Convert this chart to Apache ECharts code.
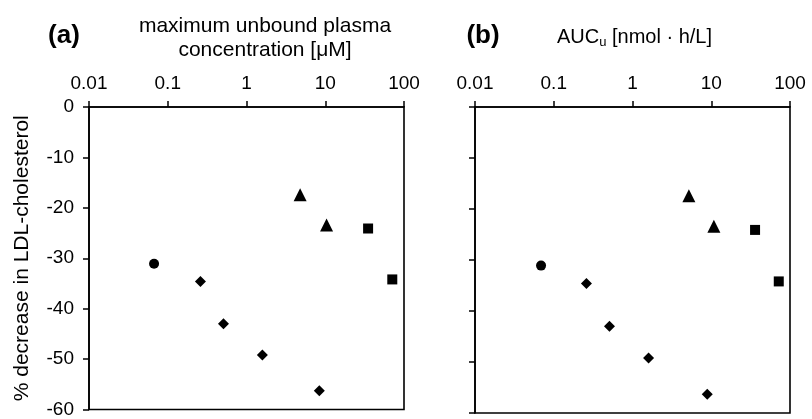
<!DOCTYPE html>
<html>
<head>
<meta charset="utf-8">
<script src="https://cdn.jsdelivr.net/npm/echarts@6/dist/echarts.min.js"></script>
<style>
  html, body { margin: 0; padding: 0; background: #fff; }
  #chart { width: 812px; height: 419px; }
</style>
</head>
<body>
<div id="chart"></div>
<script>
// tick labels for both log axes
const xTicks = [0.01, 0.1, 1, 10, 100]
const yTicks = [0, -10, -20, -30, -40, -50, -60]

// % decrease in LDL-cholesterol, per marker group
const ldlCircle = [-31.1]
const ldlTriangle = [-17.4, -23.4]
const ldlSquare = [-24.1, -34.2]
const ldlDiamond = [-34.6, -43.0, -49.2, -56.3]

// (a) maximum unbound plasma concentration [uM]
const concCircle = [0.067]
const concTriangle = [4.8, 10.4]
const concSquare = [35, 71]
const concDiamond = [0.26, 0.51, 1.59, 8.4]

// (b) AUCu [nmol h/L]
const aucCircle = [0.069]
const aucTriangle = [5.2, 10.8]
const aucSquare = [36, 72]
const aucDiamond = [0.26, 0.51, 1.6, 8.9]

const FONT = "Liberation Sans, Arial, sans-serif"

function pairs(xs, ys) {
  return xs.map((x, i) => [x, ys[i]])
}

function xAxisCfg(idx) {
  return {
    type: "log",
    logBase: 10,
    gridIndex: idx,
    position: "top",
    min: xTicks[0],
    max: xTicks[xTicks.length - 1],
    axisLine: { show: true, lineStyle: { color: "#000", width: 1.6 } },
    axisTick: { show: true, length: 6, lineStyle: { color: "#000", width: 1.5 } },
    minorTick: { show: false },
    splitLine: { show: false },
    axisLabel: {
      color: "#000",
      fontSize: 19,
      fontFamily: FONT,
      margin: 14,
      formatter: (v) => String(+(+v).toPrecision(3))
    }
  }
}

function yAxisCfg(idx, showLabels) {
  return {
    type: "value",
    gridIndex: idx,
    min: yTicks[yTicks.length - 1],
    max: yTicks[0],
    interval: 10,
    name: showLabels ? "% decrease in LDL-cholesterol" : "",
    nameLocation: "middle",
    nameGap: 56,
    nameTextStyle: { color: "#000", fontSize: 21, fontFamily: FONT },
    axisLine: { show: true, lineStyle: { color: "#000", width: 1.6 } },
    axisTick: { show: true, length: 6, lineStyle: { color: "#000", width: 1.5 } },
    splitLine: { show: false },
    axisLabel: {
      show: showLabels,
      color: "#000",
      fontSize: 19,
      fontFamily: FONT,
      margin: 15
    }
  }
}

function series(idx, data, symbol, size) {
  return {
    type: "scatter",
    xAxisIndex: idx,
    yAxisIndex: idx,
    symbol: symbol,
    symbolSize: size,
    itemStyle: { color: "#000", opacity: 1 },
    data: data
  }
}

const chart = echarts.init(document.getElementById("chart"), null, { renderer: "canvas" })

const option = {
  backgroundColor: "#fff",
  animation: false,
  grid: [
    { left: 89, right: 408, top: 107, bottom: 6, show: true, borderColor: "#000", borderWidth: 1.6 },
    { left: 475, right: 22, top: 107, bottom: 6, show: true, borderColor: "#000", borderWidth: 1.6 }
  ],
  xAxis: [xAxisCfg(0), xAxisCfg(1)],
  yAxis: [yAxisCfg(0, true), yAxisCfg(1, false)],
  series: [
    series(0, pairs(concCircle, ldlCircle), "circle", 10),
    series(0, pairs(concTriangle, ldlTriangle), "triangle", 13),
    series(0, pairs(concSquare, ldlSquare), "rect", 10),
    series(0, pairs(concDiamond, ldlDiamond), "diamond", 11),
    series(1, pairs(aucCircle, ldlCircle), "circle", 10),
    series(1, pairs(aucTriangle, ldlTriangle), "triangle", 13),
    series(1, pairs(aucSquare, ldlSquare), "rect", 10),
    series(1, pairs(aucDiamond, ldlDiamond), "diamond", 11)
  ],
  graphic: [
    {
      type: "text", x: 64, y: 36,
      style: {
        text: "(a)", fontSize: 26, fontWeight: "bold", fontFamily: FONT, fill: "#000",
        align: "center", verticalAlign: "middle"
      }
    },
    {
      type: "text", x: 265, y: 38,
      style: {
        text: "maximum unbound plasma\nconcentration [μM]",
        fontSize: 21, lineHeight: 24, fontFamily: FONT, fill: "#000",
        align: "center", verticalAlign: "middle"
      }
    },
    {
      type: "text", x: 483, y: 36,
      style: {
        text: "(b)", fontSize: 26, fontWeight: "bold", fontFamily: FONT, fill: "#000",
        align: "center", verticalAlign: "middle"
      }
    },
    {
      type: "text", x: 557, y: 37,
      style: {
        text: "AUC{sub|u} [nmol · h/L]",
        fontSize: 20, fontFamily: FONT, fill: "#000",
        align: "left", verticalAlign: "middle",
        rich: { sub: { fontSize: 13, fontFamily: FONT, fill: "#000", padding: [10, 0, 0, 0] } }
      }
    }
  ]
}

chart.setOption(option)
</script>
</body>
</html>
